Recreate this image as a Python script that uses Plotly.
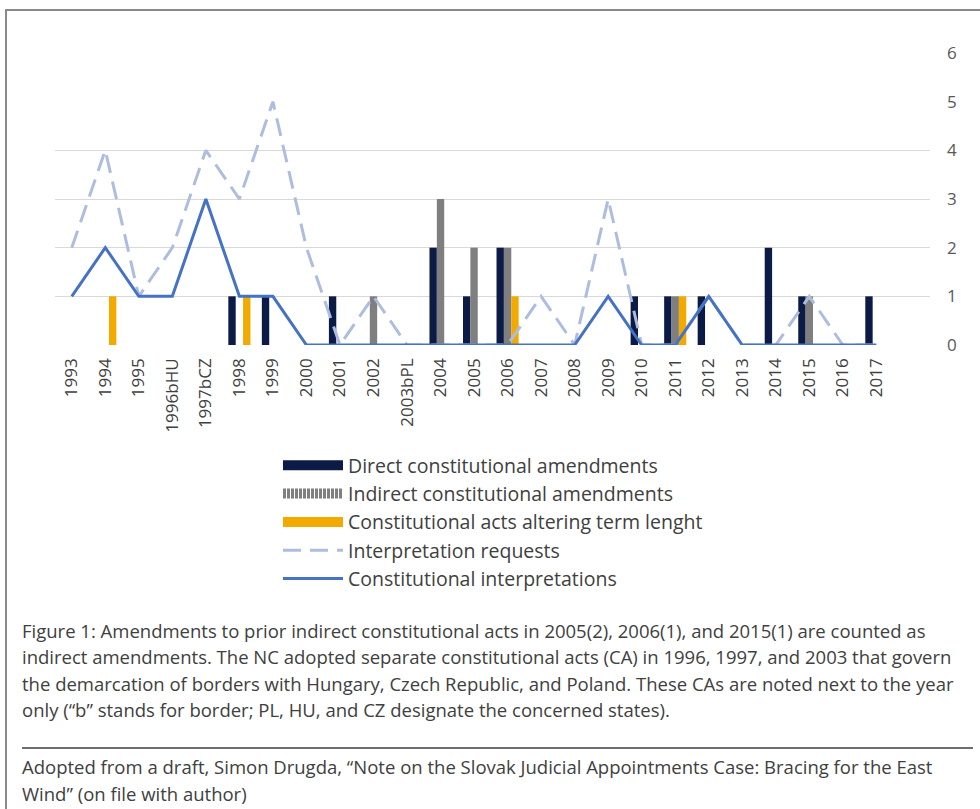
import plotly.graph_objects as go

categories = ["1993", "1994", "1995", "1996bHU", "1997bCZ", "1998", "1999", "2000",
              "2001", "2002", "2003bPL", "2004", "2005", "2006", "2007", "2008",
              "2009", "2010", "2011", "2012", "2013", "2014", "2015", "2016", "2017"]
direct = [0, 0, 0, 0, 0, 1, 1, 0, 1, 0, 0, 2, 1, 2, 0, 0, 0, 1, 1, 1, 0, 2, 1, 0, 1]
indirect = [0, 0, 0, 0, 0, 0, 0, 0, 0, 1, 0, 3, 2, 2, 0, 0, 0, 0, 1, 0, 0, 0, 1, 0, 0]
term_length = [0, 1, 0, 0, 0, 1, 0, 0, 0, 0, 0, 0, 0, 1, 0, 0, 0, 0, 1, 0, 0, 0, 0, 0, 0]
requests = [2, 4, 1, 2, 4, 3, 5, 2, 0, 1, 0, 0, 0, 0, 1, 0, 3, 0, 0, 1, 0, 0, 1, 0, 0]
interpretations = [1, 2, 1, 1, 3, 1, 1, 0, 0, 0, 0, 0, 0, 0, 0, 0, 1, 0, 0, 1, 0, 0, 0, 0, 0]
y_ticks = [0, 1, 2, 3, 4, 5, 6]
grid_levels = [1, 2, 3, 4]

names = ["Direct constitutional amendments", "Indirect constitutional amendments",
         "Constitutional acts altering term lenght", "Interpretation requests",
         "Constitutional interpretations"]

caption_lines = [
    "Figure 1: Amendments to prior indirect constitutional acts in 2005(2), 2006(1), and 2015(1) are counted as",
    "indirect amendments. The NC adopted separate constitutional acts (CA) in 1996, 1997, and 2003 that govern",
    "the demarcation of borders with Hungary, Czech Republic, and Poland. These CAs are noted next to the year",
    "only (\u201cb\u201d stands for border; PL, HU, and CZ designate the concerned states).",
]
source_lines = [
    "Adopted from a draft, Simon Drugda, \u201cNote on the Slovak Judicial Appointments Case: Bracing for the East",
    "Wind\u201d (on file with author)",
]

C_DIRECT = "#0c1b45"
C_INDIRECT = "#7f7f7f"
C_TERM = "#f2a900"
C_REQ = "#aebddf"
C_INT = "#4472c4"
FONT = "Open Sans"
W, H = 980, 809

fig = go.Figure()
for vals, col in [(direct, C_DIRECT), (indirect, C_INDIRECT), (term_length, C_TERM)]:
    fig.add_trace(go.Bar(x=categories, y=vals, marker=dict(color=col, line=dict(width=0)),
                         showlegend=False))

# legend entries for the bar series (wide rectangular swatches)
fig.add_trace(go.Scatter(x=[None], y=[None], mode="lines", name=names[0],
                         line=dict(color=C_DIRECT, width=13)))
fig.add_trace(go.Scatter(x=[None], y=[None], mode="lines", name=names[1],
                         line=dict(color=C_INDIRECT, width=13, dash="3px,1px")))
fig.add_trace(go.Scatter(x=[None], y=[None], mode="lines", name=names[2],
                         line=dict(color=C_TERM, width=13)))

fig.add_trace(go.Scatter(x=categories, y=requests, mode="lines", name=names[3],
                         line=dict(color=C_REQ, width=3, dash="18px,9px")))
fig.add_trace(go.Scatter(x=categories, y=interpretations, mode="lines", name=names[4],
                         line=dict(color=C_INT, width=3)))

# invisible trace carrying the gridline axis
fig.add_trace(go.Scatter(x=[categories[0]], y=[0], yaxis="y2", mode="none",
                         showlegend=False, hoverinfo="skip"))

x0, x1 = 55 / W, 930 / W
y0, y1 = 1 - 345 / H, 1 - 53 / H

fig.update_layout(
    width=W, height=H,
    margin=dict(l=0, r=0, t=0, b=0, autoexpand=False),
    paper_bgcolor="white", plot_bgcolor="rgba(0,0,0,0)",
    barmode="group", bargap=0.34, bargroupgap=0,
    font=dict(family=FONT, color="#404040"),
    xaxis=dict(domain=[x0, x1], range=[-0.5, 25.6], type="category",
               tickangle=-90, tickfont=dict(size=17, color="#404040"),
               showgrid=False, zeroline=False, showline=False, ticks="",
               ticklabelstandoff=9),
    yaxis=dict(domain=[y0, y1], range=[0, 6], side="right", tickvals=y_ticks,
               showgrid=False, zeroline=False, showline=False, ticks="",
               tickfont=dict(size=17, color="#595959"), ticklabelstandoff=16),
    yaxis2=dict(domain=[y0, y1], range=[0, 6], overlaying="y", tickvals=grid_levels,
                showticklabels=False, showgrid=True, gridcolor="#d9d9d9", gridwidth=1,
                zeroline=False, showline=False, ticks=""),
    legend=dict(x=278 / W, y=1 - 446 / H, xanchor="left", yanchor="top",
                font=dict(size=19.5, color="#404040", family=FONT),
                itemwidth=60, tracegroupgap=0, bgcolor="rgba(0,0,0,0)"),
    showlegend=True,
)

# frame and separator
fig.add_shape(type="line", xref="paper", yref="paper", x0=5 / W, x1=1, y0=1 - 10 / H, y1=1 - 10 / H,
              line=dict(color="#8a8a8a", width=2))
fig.add_shape(type="line", xref="paper", yref="paper", x0=6 / W, x1=6 / W, y0=0, y1=1 - 10 / H,
              line=dict(color="#8a8a8a", width=2))
fig.add_shape(type="line", xref="paper", yref="paper", x0=22 / W, x1=973 / W, y0=1 - 748 / H, y1=1 - 748 / H,
              line=dict(color="#6e6e6e", width=2))

for i, line in enumerate(caption_lines):
    fig.add_annotation(text=line, xref="paper", yref="paper", x=20 / W, y=1 - (630 + 26.5 * i) / H,
                       xanchor="left", yanchor="middle", showarrow=False,
                       font=dict(size=18.5, color="#404040", family=FONT))
for i, line in enumerate(source_lines):
    fig.add_annotation(text=line, xref="paper", yref="paper", x=20 / W, y=1 - (766 + 27 * i) / H,
                       xanchor="left", yanchor="middle", showarrow=False,
                       font=dict(size=18.5, color="#404040", family=FONT))

fig.write_html("out.html", config={"displayModeBar": False},
               post_script="document.body.style.margin='0';")
